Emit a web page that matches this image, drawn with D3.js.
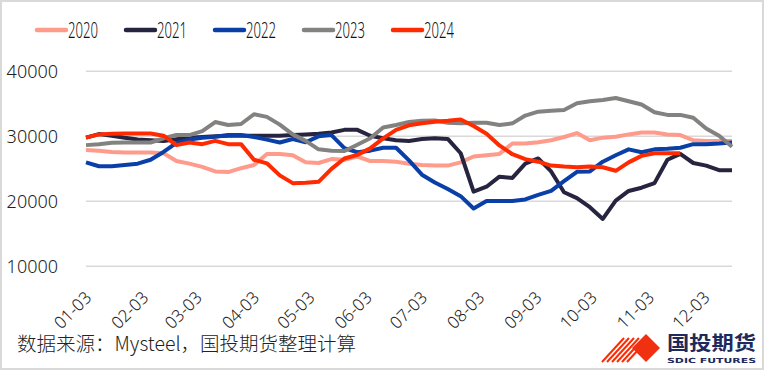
<!DOCTYPE html>
<html>
<head>
<meta charset="utf-8">
<script src="https://cdn.jsdelivr.net/npm/d3@7/dist/d3.min.js"></script>
<style>
  body { margin: 0; background: #fff; }
  svg { display: block; }
</style>
</head>
<body>
<svg id="chart"></svg>
<script>
// weekly sample dates (MM-DD) shared by every year
const weeks = ["01-03","01-10","01-17","01-24","01-31","02-07","02-14","02-21","02-28",
  "03-06","03-13","03-20","03-27","04-03","04-10","04-17","04-24","05-01","05-08","05-15",
  "05-22","05-29","06-05","06-12","06-19","06-26","07-03","07-10","07-17","07-24","07-31",
  "08-07","08-14","08-21","08-28","09-04","09-11","09-18","09-25","10-02","10-09","10-16",
  "10-23","10-30","11-06","11-13","11-20","11-27","12-04","12-11","12-18"]
const tickLabels = ["01-03","02-03","03-03","04-03","05-03","06-03","07-03","08-03","09-03","10-03","11-03","12-03"]
const yTicks = [10000, 20000, 30000, 40000]
const years = ["2020","2021","2022","2023","2024"]

const v2020 = [27800,27700,27500,27400,27400,27400,27300,26100,25700,25200,24500,24400,25000,25500,
  27200,27200,27000,25900,25800,26400,26300,26800,26100,26100,26000,25700,25500,25400,25400,25900,
  26800,27000,27200,28800,28800,29000,29300,29800,30400,29300,29700,29850,30200,30500,30500,30200,
  30100,29300,29200,29200,29200]
const v2021 = [29700,30250,30000,29700,29400,29300,29200,29450,29700,29800,29900,30000,30000,30000,
  30000,30000,30100,30200,30300,30500,30900,30900,30000,29600,29300,29200,29500,29600,29500,27300,
  21400,22150,23700,23500,25700,26500,24500,21300,20400,19000,17200,20000,21500,22000,22700,26300,
  27200,25800,25400,24700,24700]
const v2022 = [25900,25300,25300,25500,25700,26300,27500,28900,29400,29700,29850,30100,30100,29800,
  29400,28950,29500,29000,29900,30100,28100,27450,27700,28150,28150,26200,24000,22800,21800,20700,
  18800,19950,19950,19950,20200,20900,21500,23000,24450,24500,26000,27000,27900,27450,27900,28000,
  28150,28700,28700,28800,28950]
const v2023 = [28550,28700,28900,28950,28950,28950,29600,30100,30100,30700,32100,31650,31800,33300,
  32900,31700,30200,29200,27900,27700,27650,28600,29600,31250,31650,32100,32300,32350,32000,31900,
  32000,32000,31650,31900,33100,33700,33850,33950,35000,35300,35500,35800,35300,34800,33600,33200,
  33200,32750,31100,30000,28300]
const v2024 = [29700,30200,30300,30350,30350,30350,30000,28550,28950,28700,29200,28700,28700,26300,
  25750,23900,22700,22750,22900,24900,26500,27050,28050,29600,30900,31600,31900,32150,32300,32500,
  31500,30300,28500,27150,26400,26000,25400,25250,25150,25250,25150,24600,25900,26900,27300,27300,27300]

const colors = ["#ff9b8b", "#26243f", "#0a3fa8", "#828280", "#ff2a00"]
const seriesValues = [v2020, v2021, v2022, v2023, v2024]

const W = 764, H = 370
const svg = d3.select("#chart").attr("width", W).attr("height", H)

// frame round the picture
svg.append("rect")
  .attr("x", 1).attr("y", 1).attr("width", W - 2).attr("height", H - 2)
  .attr("fill", "#fff").attr("stroke", "#d9d9d9").attr("stroke-width", 2)

const parse = d3.timeParse("%Y-%m-%d")
const toDate = s => parse("2024-" + s)

const x = d3.scaleTime()
  .domain([toDate(weeks[0]), toDate(weeks[weeks.length - 1])])
  .range([86, 732])
const y = d3.scaleLinear().domain([10000, 40000]).range([265.7, 70.7])

// grid lines + y labels
const yAxis = d3.axisLeft(y).tickValues(yTicks).tickSize(-(732 - 86)).tickFormat(d3.format("d"))
const gy = svg.append("g").attr("transform", "translate(86,0)").call(yAxis)
gy.select(".domain").remove()
gy.selectAll(".tick line").attr("stroke", "#d9d9d9").attr("stroke-width", 1.6)
gy.selectAll(".tick text")
  .attr("x", -28).attr("dy", "0.35em")
  .attr("fill", "#222")
  .style("font-family", "'Noto Sans', 'DejaVu Sans', sans-serif")
  .style("font-weight", 300)
  .style("font-size", "18px")

// x labels, rotated
const xAxis = d3.axisBottom(x).tickValues(tickLabels.map(toDate)).tickSize(0).tickFormat(d3.timeFormat("%m-%d"))
const gx = svg.append("g").attr("transform", "translate(0,265.7)").call(xAxis)
gx.select(".domain").remove()
gx.selectAll(".tick text")
  .attr("fill", "#222")
  .attr("text-anchor", "end")
  .attr("dy", 0).attr("y", 0)
  .attr("transform", "translate(6,33) rotate(-45)")
  .style("font-family", "'Noto Sans', 'DejaVu Sans', sans-serif")
  .style("font-weight", 300)
  .style("font-size", "17px")

// lines
const line = d3.line()
  .x((d, i) => x(toDate(weeks[i])))
  .y(d => y(d))

svg.append("g").selectAll("path")
  .data(seriesValues)
  .join("path")
  .attr("d", line)
  .attr("fill", "none")
  .attr("stroke", (d, i) => colors[i])
  .attr("stroke-width", 4)
  .attr("stroke-linejoin", "round")

// legend
const lg = svg.append("g").selectAll("g")
  .data(years)
  .join("g")
  .attr("transform", (d, i) => `translate(${37 + i * 89},30)`)
lg.append("line")
  .attr("x1", 0).attr("x2", 29).attr("y1", 0).attr("y2", 0)
  .attr("stroke", (d, i) => colors[i])
  .attr("stroke-width", 4.5)
  .attr("stroke-linecap", "round")
lg.append("text")
  .attr("x", 31).attr("y", 7.5)
  .attr("textLength", 30).attr("lengthAdjust", "spacingAndGlyphs")
  .style("font-family", "'Noto Sans', 'DejaVu Sans', sans-serif")
  .style("font-weight", 300)
  .style("font-size", "21px")
  .attr("fill", "#111")
  .text(d => d)

// source note
svg.append("text")
  .attr("x", 17).attr("y", 351)
  .style("font-family", "'Noto Sans CJK SC', sans-serif")
  .style("font-weight", 300)
  .style("font-size", "19.5px")
  .attr("fill", "#222")
  .text("数据来源：Mysteel，国投期货整理计算")

// logo (rough)
const logo = svg.append("g").attr("transform", "translate(602,334)")
const stripes = [0, 5, 10, 15, 20, 25]
logo.selectAll("line.s")
  .data(stripes)
  .join("line")
  .attr("x1", d => d).attr("y1", 28)
  .attr("x2", d => d + 22).attr("y2", 4)
  .attr("stroke", "#ff2a00").attr("stroke-width", 2)
logo.append("path")
  .attr("d", "M30,14 L44,0 L58,14 L44,28 Z")
  .attr("fill", "#f03010")
logo.append("text")
  .attr("x", 65).attr("y", 16)
  .style("font-family", "'Noto Sans CJK SC', sans-serif")
  .style("font-weight", 700)
  .style("font-size", "19px")
  .attr("textLength", 89).attr("lengthAdjust", "spacingAndGlyphs")
  .attr("fill", "#1e2a5c")
  .text("国投期货")
logo.append("text")
  .attr("x", 65).attr("y", 29)
  .style("font-family", "'DejaVu Sans', sans-serif")
  .style("font-weight", 700)
  .style("font-size", "7px")
  .attr("textLength", 89).attr("lengthAdjust", "spacingAndGlyphs")
  .attr("fill", "#1e2a5c")
  .text("SDIC FUTURES")
</script>
</body>
</html>
